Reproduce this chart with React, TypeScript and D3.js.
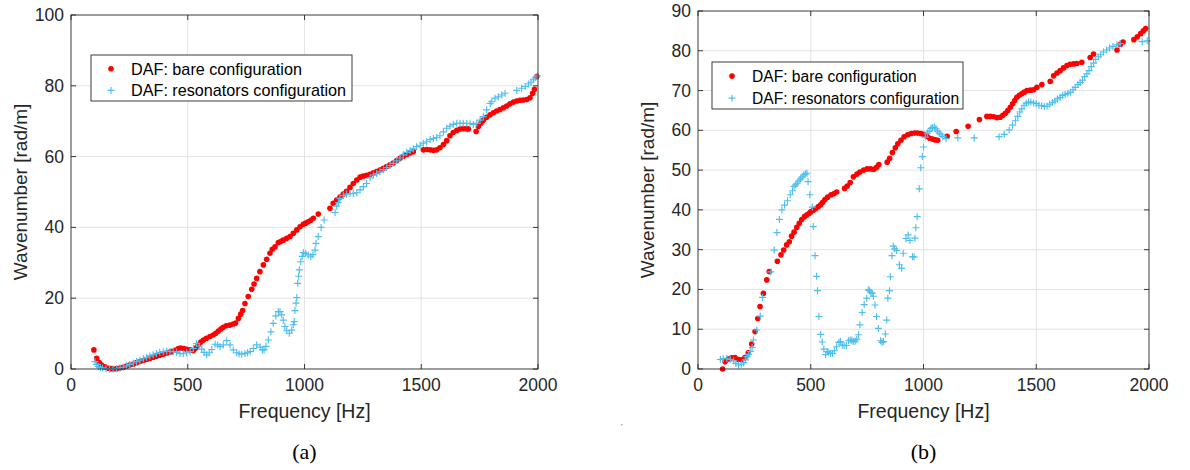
import React from "react";
import * as d3 from "d3";

// frequency [Hz], wavenumber [rad/m]
const bareA: [number, number][] = [
  [98, 5.4], [110, 3.0], [121, 1.8], [131, 1.1], [145, 0.6], [160, 0.2], [172, 0.1], [181, 0], [195, 0.1], [210, 0.3],
  [224, 0.5], [238, 0.8], [252, 1.1], [267, 1.4], [281, 1.8], [295, 2.1], [310, 2.4], [324, 2.7], [338, 3.0], [352, 3.3],
  [366, 3.6], [380, 3.9], [395, 4.2], [410, 4.5], [420, 4.7], [431, 4.9], [445, 5.3], [460, 5.8], [470, 5.9], [482, 5.8],
  [495, 5.6], [510, 5.4], [524, 5.2], [535, 5.9], [545, 6.8], [556, 7.6], [567, 8.2], [580, 8.7], [595, 9.2], [609, 9.6],
  [620, 10.1], [631, 10.7], [642, 11.3], [652, 11.8], [665, 12.2], [680, 12.4], [695, 12.7], [705, 13.0], [717, 14.3], [727, 15.5],
  [735, 16.5], [745, 18.5], [759, 20.5], [774, 22.5], [784, 24.0], [795, 25.6], [809, 27.5], [824, 29.4], [838, 31.0], [852, 32.7],
  [862, 33.8], [874, 34.5], [888, 35.7], [898, 36.0], [909, 36.4], [924, 36.9], [938, 37.4], [952, 38.3], [967, 39.3], [981, 40.2],
  [995, 40.9], [1005, 41.2], [1016, 41.6], [1027, 42.0], [1038, 42.6], [1059, 43.8], [1109, 45.4], [1123, 46.8], [1138, 47.7], [1152, 48.6],
  [1166, 49.4], [1180, 50.2], [1195, 51.3], [1209, 52.4], [1224, 53.4], [1238, 54.2], [1252, 54.5], [1266, 54.7], [1281, 55.0], [1295, 55.4],
  [1309, 55.8], [1323, 56.2], [1338, 56.7], [1352, 57.2], [1366, 57.7], [1380, 58.2], [1395, 58.9], [1409, 59.5], [1423, 60.1], [1438, 60.6],
  [1452, 61.0], [1466, 61.4], [1509, 61.9], [1523, 62.0], [1538, 61.9], [1552, 61.8], [1566, 61.9], [1580, 62.5], [1595, 63.4], [1609, 64.5],
  [1623, 65.9], [1637, 66.8], [1652, 67.4], [1666, 67.8], [1680, 67.9], [1695, 67.9], [1702, 67.8], [1735, 67.1], [1745, 68.5], [1756, 69.5],
  [1766, 70.3], [1780, 71.1], [1795, 71.8], [1809, 72.4], [1823, 72.9], [1837, 73.3], [1852, 73.8], [1866, 74.3], [1880, 74.9], [1895, 75.4],
  [1909, 75.7], [1923, 75.9], [1937, 76.0], [1952, 76.1], [1966, 76.6], [1977, 77.9], [1985, 79.0], [1995, 82.6],
];

const resA: [number, number][] = [
  [103, 2.1], [110, 1.3], [117, 0.7], [126, 0.4], [135, 0.3], [150, 0.1], [165, 0.0], [180, 0.0], [195, 0.1], [210, 0.3],
  [224, 0.5], [238, 0.9], [252, 1.3], [267, 1.7], [281, 2.1], [295, 2.5], [310, 2.9], [324, 3.3], [338, 3.7], [352, 4.0],
  [366, 4.4], [380, 4.7], [395, 4.9], [410, 5.0], [424, 5.0], [438, 4.9], [452, 4.7], [467, 4.4], [481, 4.3], [495, 4.6],
  [510, 4.9], [524, 5.8], [538, 7.2], [549, 6.5], [560, 5.6], [570, 4.7], [581, 4.0], [592, 4.6], [603, 5.5], [617, 7.0],
  [628, 6.8], [638, 6.3], [652, 6.8], [667, 8.0], [681, 6.8], [695, 5.4], [710, 4.6], [720, 4.3], [731, 4.2], [745, 4.4],
  [756, 4.6], [767, 4.9], [781, 5.8], [795, 6.8], [810, 6.2], [820, 5.4], [827, 5.4], [835, 6.4], [845, 8.2], [856, 10.5],
  [866, 12.9], [877, 15.0], [888, 16.2], [895, 16.2], [902, 15.3], [909, 13.8], [916, 12.0], [924, 10.8], [935, 10.1], [945, 11.0],
  [952, 12.5], [956, 13.4], [959, 16.5], [964, 18.6], [967, 20.2], [971, 24.2], [975, 26.2], [978, 28.0], [984, 30.3], [990, 31.8],
  [995, 32.9], [1005, 32.6], [1016, 32.2], [1027, 31.7], [1036, 32.3], [1045, 33.6], [1049, 35.5], [1059, 37.4], [1071, 40.0], [1084, 42.1],
  [1131, 44.2], [1138, 46.0], [1145, 47.0], [1152, 48.2], [1166, 49.0], [1180, 49.4], [1195, 49.5], [1209, 49.6], [1224, 49.8], [1238, 50.6],
  [1252, 51.5], [1266, 52.4], [1281, 54.0], [1295, 54.8], [1309, 55.2], [1323, 55.7], [1338, 56.3], [1352, 56.9], [1366, 57.5], [1380, 58.1],
  [1395, 58.8], [1409, 59.6], [1423, 60.5], [1438, 61.2], [1452, 61.7], [1466, 62.2], [1480, 62.8], [1495, 63.2], [1509, 63.8], [1523, 64.2],
  [1538, 64.8], [1552, 65.1], [1566, 65.4], [1580, 65.9], [1595, 67.0], [1609, 68.0], [1623, 68.6], [1637, 69.1], [1652, 69.4], [1666, 69.4],
  [1680, 69.4], [1695, 69.4], [1709, 69.3], [1723, 69.1], [1738, 69.4], [1752, 70.3], [1766, 71.3], [1780, 73.2], [1795, 75.0], [1802, 75.5],
  [1816, 76.5], [1830, 76.9], [1845, 77.4], [1859, 77.9], [1909, 78.7], [1930, 79.3], [1945, 79.8], [1959, 80.5], [1970, 81.0], [1980, 81.7],
  [1988, 82.2], [1997, 82.8],
];

const bareB: [number, number][] = [
  [109, 0.0], [120, 1.8], [134, 2.5], [149, 2.8], [164, 2.9], [179, 2.4], [194, 2.3], [208, 2.9], [223, 4.1], [238, 6.3],
  [253, 9.4], [265, 12.7], [275, 15.7], [290, 19.0], [305, 22.4], [316, 24.5], [352, 27.1], [368, 28.7], [380, 29.9], [393, 31.2],
  [405, 32.0], [415, 33.4], [426, 34.4], [438, 35.6], [449, 36.6], [460, 37.6], [472, 38.3], [482, 38.7], [492, 39.1], [500, 39.5],
  [511, 39.9], [522, 40.3], [533, 40.8], [544, 41.3], [553, 41.9], [563, 42.6], [575, 43.2], [590, 43.8], [604, 44.1], [615, 44.5],
  [650, 45.4], [662, 46.0], [675, 46.9], [689, 48.3], [705, 49.0], [718, 49.5], [735, 50.0], [750, 50.3], [765, 50.3], [780, 50.2],
  [792, 50.7], [802, 51.4], [839, 52.0], [850, 53.0], [862, 54.4], [875, 55.6], [886, 56.6], [900, 57.5], [914, 58.4], [930, 58.9],
  [945, 59.2], [960, 59.3], [974, 59.3], [988, 59.2], [1000, 59.0], [1015, 58.5], [1028, 58.0], [1040, 57.8], [1052, 57.6], [1063, 57.5],
  [1105, 58.5], [1145, 59.7], [1198, 61.0], [1248, 62.7], [1281, 63.5], [1296, 63.5], [1311, 63.4], [1325, 63.2], [1340, 63.3], [1352, 63.8],
  [1363, 64.3], [1374, 65.0], [1385, 65.8], [1395, 66.7], [1405, 67.5], [1414, 68.3], [1425, 68.8], [1436, 69.2], [1447, 69.6], [1459, 70.0],
  [1474, 70.1], [1488, 70.2], [1503, 70.8], [1525, 71.5], [1562, 72.3], [1577, 73.7], [1592, 74.4], [1606, 75.0], [1621, 75.7], [1636, 76.3],
  [1650, 76.6], [1665, 76.7], [1680, 76.8], [1702, 77.1], [1739, 78.3], [1754, 79.2], [1858, 80.2], [1873, 81.6], [1885, 82.2], [1933, 82.8],
  [1948, 83.5], [1963, 84.3], [1975, 85.0], [1985, 85.6],
];

const resB: [number, number][] = [
  [99, 2.4], [112, 2.6], [128, 2.7], [143, 2.4], [158, 2.0], [168, 1.4], [180, 1.0], [192, 1.2], [202, 1.6], [210, 2.3],
  [217, 3.1], [225, 3.6], [232, 4.4], [240, 5.4], [246, 7.3], [261, 9.8], [276, 13.3], [286, 18.0], [323, 24.4], [338, 29.9],
  [350, 34.3], [361, 37.6], [372, 40.0], [384, 41.2], [397, 42.3], [409, 43.8], [419, 44.8], [426, 45.9], [433, 46.3], [440, 46.7],
  [448, 47.3], [455, 47.8], [462, 48.3], [469, 48.8], [476, 49.0], [483, 49.2], [488, 47.1], [496, 43.8], [507, 40.7], [511, 35.8],
  [519, 28.5], [526, 23.3], [530, 19.7], [536, 13.2], [544, 8.7], [551, 6.8], [558, 5.0], [566, 3.6], [573, 4.4], [580, 4.2],
  [588, 3.9], [597, 3.9], [605, 4.6], [615, 5.6], [625, 6.7], [632, 6.9], [640, 6.0], [648, 5.9], [658, 5.9], [667, 7.1],
  [675, 7.3], [682, 7.2], [689, 6.9], [697, 7.0], [704, 7.5], [712, 8.6], [718, 11.1], [728, 14.2], [737, 16.2], [748, 17.8],
  [755, 19.9], [761, 19.7], [767, 19.3], [772, 19.0], [778, 18.3], [785, 16.1], [792, 13.2], [800, 10.2], [810, 7.1], [816, 6.7],
  [822, 6.9], [831, 8.8], [837, 12.3], [842, 17.8], [849, 19.7], [853, 23.2], [860, 28.5], [866, 30.9], [872, 30.2], [881, 29.8],
  [893, 26.2], [903, 25.3], [910, 29.1], [922, 32.8], [932, 33.7], [940, 32.3], [951, 28.2], [958, 28.2], [962, 32.9], [966, 35.5],
  [972, 38.3], [981, 45.3], [988, 50.6], [995, 53.4], [1000, 55.8], [1008, 58.3], [1017, 59.3], [1025, 59.8], [1033, 60.5], [1040, 60.7],
  [1048, 60.8], [1055, 60.4], [1062, 59.8], [1070, 59.3], [1078, 58.9], [1085, 58.4], [1100, 57.9], [1152, 58.1], [1225, 58.1], [1335, 58.4],
  [1358, 59.0], [1380, 60.1], [1395, 61.3], [1408, 62.4], [1418, 63.5], [1427, 64.6], [1436, 65.4], [1446, 66.3], [1456, 66.8], [1466, 67.1],
  [1476, 67.1], [1488, 66.9], [1500, 66.7], [1512, 66.3], [1524, 66.2], [1536, 66.0], [1548, 66.1], [1560, 66.6], [1572, 67.0], [1583, 67.4],
  [1594, 67.9], [1606, 68.3], [1617, 68.8], [1628, 69.0], [1640, 69.3], [1652, 69.6], [1663, 70.2], [1673, 70.8], [1685, 71.5], [1695, 72.0],
  [1705, 72.6], [1715, 73.5], [1725, 74.2], [1734, 75.0], [1744, 76.0], [1754, 76.9], [1764, 77.8], [1775, 78.5], [1786, 79.0], [1798, 79.7],
  [1812, 80.2], [1825, 80.7], [1840, 81.1], [1858, 81.5], [1872, 81.8], [1970, 82.3], [1992, 82.5],
];

const xTicks = [0, 500, 1000, 1500, 2000];
const yTicksA = [0, 20, 40, 60, 80, 100];
const yTicksB = [0, 10, 20, 30, 40, 50, 60, 70, 80, 90];
const legendLabels = ["DAF: bare configuration", "DAF: resonators configuration"];

const AX = "#262626";
const RED = "#ff0000";
const BLUE = "#4dbeee";
const FONT = "'Liberation Sans', Arial, sans-serif";

type PanelProps = {
  left: number; right: number; top: number; bottom: number;
  yMax: number; yTicks: number[];
  bare: [number, number][]; res: [number, number][];
  leg: { x: number; y: number; w: number; h: number; fs: number };
  caption: string;
};

function Panel({ left, right, top, bottom, yMax, yTicks, bare, res, leg, caption }: PanelProps) {
  const x = d3.scaleLinear().domain([0, 2000]).range([left, right]);
  const y = d3.scaleLinear().domain([0, yMax]).range([bottom, top]);
  const tl = 5;
  const plus = (cx: number, cy: number, k: string | number) => (
    <path key={k} d={`M${cx - 3.5},${cy}H${cx + 3.5}M${cx},${cy - 3.5}V${cy + 3.5}`} stroke={BLUE} strokeWidth={1.15} fill="none" />
  );
  const midX = (left + right) / 2;
  const midY = (top + bottom) / 2;
  return (
    <g fontFamily={FONT}>
      {/* grid */}
      {xTicks.slice(1, -1).map((t) => (
        <line key={"gx" + t} x1={x(t)} x2={x(t)} y1={top} y2={bottom} stroke="#e3e3e3" strokeWidth={1} />
      ))}
      {yTicks.slice(1, -1).map((t) => (
        <line key={"gy" + t} x1={left} x2={right} y1={y(t)} y2={y(t)} stroke="#e3e3e3" strokeWidth={1} />
      ))}
      {/* data */}
      {bare.map(([f, k], i) => (
        <circle key={"b" + i} cx={x(f)} cy={y(k)} r={2.8} fill={RED} />
      ))}
      {res.map(([f, k], i) => plus(x(f), y(k), "r" + i))}
      {/* box + ticks */}
      <rect x={left} y={top} width={right - left} height={bottom - top} fill="none" stroke={AX} strokeWidth={0.9} />
      {xTicks.map((t) => (
        <g key={"tx" + t}>
          <line x1={x(t)} x2={x(t)} y1={bottom} y2={bottom - tl} stroke={AX} strokeWidth={0.9} />
          <line x1={x(t)} x2={x(t)} y1={top} y2={top + tl} stroke={AX} strokeWidth={0.9} />
          <text x={x(t)} y={bottom + 22} textAnchor="middle" fontSize={17.5} fill={AX}>{t}</text>
        </g>
      ))}
      {yTicks.map((t) => (
        <g key={"ty" + t}>
          <line x1={left} x2={left + tl} y1={y(t)} y2={y(t)} stroke={AX} strokeWidth={0.9} />
          <line x1={right} x2={right - tl} y1={y(t)} y2={y(t)} stroke={AX} strokeWidth={0.9} />
          <text x={left - 7} y={y(t) + 6} textAnchor="end" fontSize={17.5} fill={AX}>{t}</text>
        </g>
      ))}
      <text x={midX} y={bottom + 49} textAnchor="middle" fontSize={19.5} fill={AX}>Frequency [Hz]</text>
      <text transform={`translate(${left - 44},${midY}) rotate(-90)`} textAnchor="middle" fontSize={19} fill={AX}>
        Wavenumber [rad/m]
      </text>
      {/* legend */}
      <rect x={leg.x} y={leg.y} width={leg.w} height={leg.h} fill="#fff" stroke={AX} strokeWidth={0.9} />
      <circle cx={leg.x + 20} cy={leg.y + leg.h * 0.3} r={2.8} fill={RED} />
      {plus(leg.x + 20, leg.y + leg.h * 0.77, "lp")}
      {legendLabels.map((l, i) => (
        <text key={l} x={leg.x + 40} y={leg.y + leg.h * (i === 0 ? 0.3 : 0.77) + leg.fs * 0.36} fontSize={leg.fs} fill="#000">{l}</text>
      ))}
      <text x={midX} y={459} textAnchor="middle" fontSize={22} fontFamily="'Liberation Serif', 'DejaVu Serif', serif" fill="#000">
        {caption}
      </text>
    </g>
  );
}

export default function App() {
  return (
    <div style={{ position: "fixed", left: 0, top: 0 }}>
      <svg width={1190} height={470} style={{ display: "block", background: "#fff" }}>
        <Panel left={71} right={538} top={15} bottom={369} yMax={100} yTicks={yTicksA}
          bare={bareA} res={resA} leg={{ x: 91, y: 55, w: 261, h: 46, fs: 16.2 }} caption="(a)" />
        <Panel left={698} right={1149} top={11} bottom={369} yMax={90} yTicks={yTicksB}
          bare={bareB} res={resB} leg={{ x: 712, y: 62, w: 251, h: 47, fs: 15.6 }} caption="(b)" />
        <rect x={621} y={424} width={1.5} height={1.5} fill="#aaa" />
      </svg>
    </div>
  );
}
